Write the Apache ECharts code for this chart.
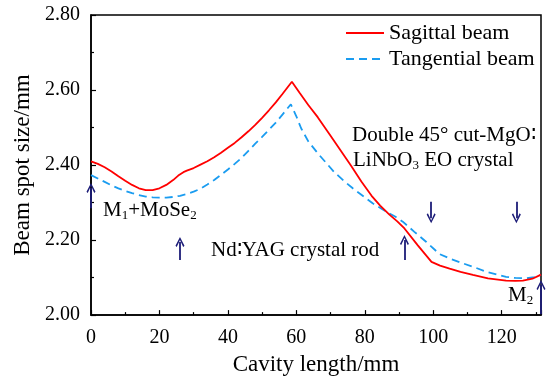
<!DOCTYPE html>
<html>
<head>
<meta charset="utf-8">
<script src="https://cdn.jsdelivr.net/npm/echarts@6/dist/echarts.min.js"></script>
<style>html,body{margin:0;padding:0;background:#fff}#c{width:549px;height:381px}</style>
</head>
<body>
<div id="c"></div>
<script>
// ---- data ----
const xTicks = [0, 20, 40, 60, 80, 100, 120];
const yTicks = [2.00, 2.20, 2.40, 2.60, 2.80];
const sagittalX = [0, 2, 4, 6, 8, 10, 12, 14, 16, 18, 20, 22, 24, 25.5, 27, 28, 30, 32, 34, 36, 38, 40, 42, 44, 46, 48, 50, 52, 54, 56, 58.7, 61, 63.5, 66.3, 70, 73, 76, 79, 82, 84.5, 87.2, 89.5, 91.6, 95.5, 99.5, 102, 104.8, 108, 111.6, 116, 121.3, 124, 126.2, 129, 131.5];
const sagittalY = [2.410, 2.403, 2.394, 2.383, 2.370, 2.358, 2.347, 2.338, 2.333, 2.333, 2.338, 2.347, 2.360, 2.372, 2.381, 2.385, 2.392, 2.401, 2.410, 2.421, 2.433, 2.446, 2.459, 2.474, 2.490, 2.507, 2.526, 2.546, 2.567, 2.590, 2.622, 2.592, 2.560, 2.527, 2.478, 2.438, 2.398, 2.356, 2.318, 2.292, 2.268, 2.250, 2.231, 2.186, 2.142, 2.132, 2.124, 2.115, 2.107, 2.098, 2.092, 2.091, 2.092, 2.097, 2.108];
const tangentialX = [0, 2, 4, 6, 8, 10, 12, 14, 16, 18, 20, 22, 24, 26, 28, 30, 32, 34, 36, 38, 40, 42, 44, 46, 48, 50, 52, 54, 56, 58.4, 60, 61.4, 63.5, 66.3, 71, 74, 76.5, 79, 82.3, 85, 87.2, 89, 91.1, 94.5, 98, 101.8, 104.8, 108, 111.6, 116, 121.3, 124, 127.2, 129.5, 131.5];
const tangentialY = [2.373, 2.364, 2.355, 2.346, 2.338, 2.331, 2.325, 2.320, 2.316, 2.314, 2.313, 2.313, 2.315, 2.318, 2.323, 2.329, 2.337, 2.348, 2.360, 2.374, 2.388, 2.403, 2.419, 2.438, 2.457, 2.475, 2.494, 2.513, 2.535, 2.562, 2.530, 2.498, 2.463, 2.431, 2.382, 2.357, 2.338, 2.321, 2.298, 2.283, 2.271, 2.262, 2.249, 2.222, 2.195, 2.163, 2.151, 2.140, 2.129, 2.114, 2.102, 2.099, 2.098, 2.101, 2.107];
// arrows: [x, tailY, tipY]
const arrowX = [0, 26, 91.6, 99.4, 124.3, 131.5];
const arrowTail = [2.285, 2.147, 2.147, 2.302, 2.302, 2.002];
const arrowTip = [2.339, 2.195, 2.200, 2.258, 2.258, 2.080];

const pair = (xs, ys) => xs.map((x, i) => [x, ys[i]]);
const FONT = '"Liberation Serif", "Times New Roman", serif';
const NAVY = '#1c1c78';
const chevron = 'path://M5,0 L10,9 L8.6,10.2 L5,3 L1.4,10.2 L0,9 Z';

const chart = echarts.init(document.getElementById('c'), null, {renderer: 'canvas'});
const arrowData = arrowX.map((x, i) => [{coord: [x, arrowTail[i]]}, {coord: [x, arrowTip[i]]}]);
const subRich = {a: {fontFamily: FONT, fontSize: 21, fill: '#000'}, s: {fontFamily: FONT, fontSize: 13, fill: '#000', padding: [10, 0, 0, 0]}};

chart.setOption({
  animation: false,
  backgroundColor: '#fff',
  grid: {left: 91, right: 8, top: 15, bottom: 65, show: true, borderColor: '#000', borderWidth: 1.5, backgroundColor: 'transparent'},
  legend: {
    orient: 'vertical', left: 345, top: 22, padding: 0, itemWidth: 38, itemHeight: 14, itemGap: 4,
    itemStyle: {color: 'transparent', borderColor: 'transparent', borderWidth: 0},
    textStyle: {fontFamily: FONT, fontSize: 22, color: '#000'},
    data: ['Sagittal beam', 'Tangential beam']
  },
  xAxis: {
    type: 'value', min: 0, max: 131.5, interval: 20,
    name: 'Cavity length/mm', nameLocation: 'middle', nameGap: 35,
    nameTextStyle: {fontFamily: FONT, fontSize: 23, color: '#000'},
    axisLine: {lineStyle: {color: '#000', width: 1.5}},
    axisTick: {inside: true, length: 5, lineStyle: {color: '#000', width: 1.2}},
    minorTick: {show: true, splitNumber: 2, length: 3, lineStyle: {color: '#000', width: 1.2}},
    splitLine: {show: false},
    axisLabel: {fontFamily: FONT, fontSize: 20, color: '#000', margin: 13,
      formatter: v => (xTicks.indexOf(v) >= 0 ? String(v) : '')}
  },
  yAxis: {
    type: 'value', min: 2.0, max: 2.8, interval: 0.2,
    name: 'Beam spot size/mm', nameLocation: 'middle', nameGap: 57,
    nameTextStyle: {fontFamily: FONT, fontSize: 23, color: '#000'},
    axisLine: {lineStyle: {color: '#000', width: 1.5}},
    axisTick: {inside: true, length: 5, lineStyle: {color: '#000', width: 1.2}},
    minorTick: {show: true, splitNumber: 2, length: 3, lineStyle: {color: '#000', width: 1.2}},
    splitLine: {show: false},
    axisLabel: {fontFamily: FONT, fontSize: 20, color: '#000', margin: 11,
      formatter: v => v.toFixed(2)}
  },
  series: [
    {
      name: 'Sagittal beam', type: 'line', symbol: 'none', smooth: false,
      data: pair(sagittalX, sagittalY),
      lineStyle: {color: '#ff0000', width: 1.8},
      itemStyle: {color: '#ff0000'},
      z: 3
    },
    {
      name: 'Tangential beam', type: 'line', symbol: 'none', smooth: false,
      data: pair(tangentialX, tangentialY),
      lineStyle: {color: '#1a9cf0', width: 1.8, type: [8, 5]},
      itemStyle: {color: '#1a9cf0'},
      z: 2,
      markLine: {
        silent: true, animation: false,
        symbol: ['none', chevron], symbolSize: [9, 10],
        label: {show: false},
        lineStyle: {color: NAVY, width: 1.8, type: 'solid'},
        emphasis: {disabled: true},
        data: arrowData
      }
    }
  ],
  graphic: [
    {type: 'text', left: 103, top: 200, style: {text: '{a|M}{s|1}{a|+MoSe}{s|2}', rich: subRich}},
    {type: 'text', left: 211, top: 240, style: {text: 'Nd∶YAG crystal rod', font: '21px ' + FONT, fill: '#000'}},
    {type: 'text', left: 352, top: 125, style: {text: 'Double 45° cut-MgO∶', font: '21px ' + FONT, fill: '#000'}},
    {type: 'text', left: 353, top: 150, style: {text: '{a|LiNbO}{s|3}{a| EO crystal}', rich: subRich}},
    {type: 'text', left: 508, top: 285, style: {text: '{a|M}{s|2}', rich: subRich}}
  ]
});
</script>
</body>
</html>
